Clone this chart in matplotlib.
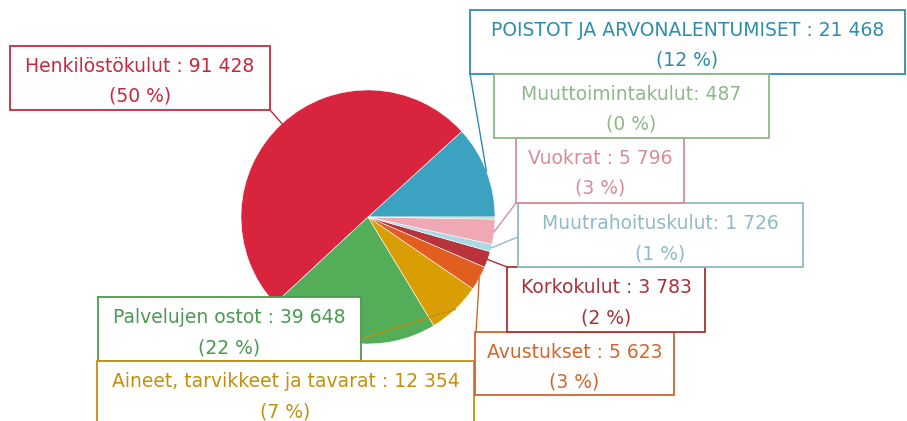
import numpy as np
import matplotlib
matplotlib.use("Agg")
import matplotlib.pyplot as plt
from matplotlib.patches import Rectangle

# Data (order: counterclockwise from 3 o'clock)
categories = ["POISTOT JA ARVONALENTUMISET", "Henkilöstökulut", "Palvelujen ostot",
              "Aineet, tarvikkeet ja tavarat", "Avustukset", "Korkokulut",
              "Muutrahoituskulut", "Vuokrat", "Muuttoimintakulut"]
values = [21468, 91428, 39648, 12354, 5623, 3783, 1726, 5796, 487]
separators = [" : ", " : ", " : ", " : ", " : ", " : ", ": ", " : ", ": "]

slice_colors = ["#3BA3C1", "#D9243E", "#53AD59", "#D99E04", "#E15E20",
                "#B8343A", "#A8D9E4", "#F0A8B4", "#B6D6B1"]
text_colors = ["#2F8DAB", "#C9283C", "#4A9A50", "#C48F0C", "#D2662C",
               "#A8323A", "#8FBAC6", "#D98C99", "#8DB88A"]

# Layout: label boxes (x0, top, x1, bottom) in pixels, and leader line end points
boxes = [(470, 10, 905, 74), (10, 46, 270, 110), (98, 297, 361, 361),
         (97, 361, 474, 426), (475, 332, 674, 395), (507, 267, 705, 332),
         (518, 203, 803, 267), (516, 138, 684, 203), (494, 74, 769, 138)]
anchors = [(470, 74), (270, 110), None, (290, 361), (476, 332), (507, 267),
           (518, 237), (516, 203), None]

center = (368, 217)
radius = 127

fig = plt.figure(figsize=(9.07, 4.21), dpi=100)
ax = fig.add_axes([0, 0, 1, 1])

# y axis points down (pixel coords), so draw clockwise in data = counterclockwise on screen
wedges, _ = ax.pie(values, colors=slice_colors, startangle=0, counterclock=False,
                   center=center, radius=radius,
                   wedgeprops=dict(edgecolor="white", linewidth=0.4))

total = sum(values)
for i, w in enumerate(wedges):
    w.set_zorder(1)
    col = text_colors[i]
    # leader line
    if anchors[i] is not None:
        mid = np.deg2rad((w.theta1 + w.theta2) / 2)
        px = center[0] + radius * np.cos(mid)
        py = center[1] + radius * np.sin(mid)
        ax.plot([px, anchors[i][0]], [py, anchors[i][1]], color=col, lw=1.0, zorder=2)

    x0, top, x1, bottom = boxes[i]
    ax.add_patch(Rectangle((x0, top), x1 - x0, bottom - top, facecolor="white",
                           edgecolor=col, lw=1.3, zorder=3 + i * 0.01))
    pct = round(values[i] / total * 100)
    num = f"{values[i]:,}".replace(",", " ")
    xc = (x0 + x1) / 2
    ax.text(xc, top + 26, f"{categories[i]}{separators[i]}{num}", color=col,
            fontsize=13.5, ha="center", va="baseline", zorder=4)
    ax.text(xc, top + 56, f"({pct} %)", color=col, fontsize=13.5,
            ha="center", va="baseline", zorder=4)

ax.set_xlim(0, 907)
ax.set_ylim(421, 0)
ax.set_aspect("equal")
ax.axis("off")

fig.savefig("out.png", dpi=100)
